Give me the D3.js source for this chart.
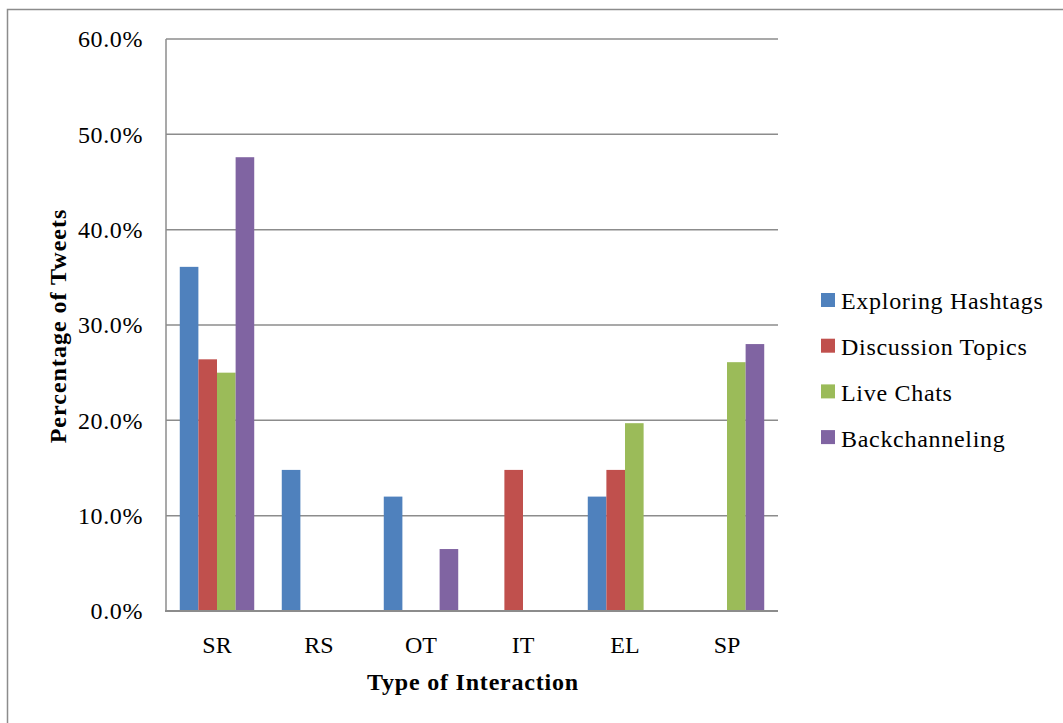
<!DOCTYPE html>
<html>
<head>
<meta charset="utf-8">
<script src="https://cdn.jsdelivr.net/npm/d3@7"></script>
<style>
  body { margin: 0; background: #fff; }
  svg text { font-family: "Liberation Serif", "DejaVu Serif", serif; fill: #000; }
</style>
</head>
<body>
<div id="wrapper"></div>
<script>
const categories = ["SR", "RS", "OT", "IT", "EL", "SP"]
const seriesNames = ["Exploring Hashtags", "Discussion Topics", "Live Chats", "Backchanneling"]
const colors = ["#4F81BD", "#C0504D", "#9BBB59", "#8064A2"]
// percentages per category, in series order (0 = no bar)
const exploringHashtags = [36.1, 14.8, 12.0, 0, 12.0, 0]
const discussionTopics = [26.4, 0, 0, 14.8, 14.8, 0]
const liveChats = [25.0, 0, 0, 0, 19.7, 26.1]
const backchanneling = [47.6, 0, 6.5, 0, 0, 28.0]
const yTicks = [0, 10, 20, 30, 40, 50, 60]

const series = [exploringHashtags, discussionTopics, liveChats, backchanneling]

let dimensions = {
    width: 1063,
    height: 723,
    margin: { top: 39, right: 285, bottom: 112, left: 166 },
}
dimensions.boundedWidth = dimensions.width - dimensions.margin.left - dimensions.margin.right
dimensions.boundedHeight = dimensions.height - dimensions.margin.top - dimensions.margin.bottom

const svg = d3.select("#wrapper")
    .append("svg")
    .attr("width", dimensions.width)
    .attr("height", dimensions.height)

// outer frame
svg.append("rect")
    .attr("x", 7.5).attr("y", 9.5)
    .attr("width", 1100).attr("height", 800)
    .attr("fill", "none")
    .attr("stroke", "#8c8c8c")
    .attr("stroke-width", 1.5)

const bounds = svg.append("g")
    .attr("transform", `translate(${dimensions.margin.left}, ${dimensions.margin.top})`)

const xScale = d3.scaleBand()
    .domain(categories)
    .range([0, dimensions.boundedWidth])
    .paddingInner(0.27)
    .paddingOuter(0.135)

const subScale = d3.scaleBand()
    .domain(d3.range(seriesNames.length))
    .range([0, xScale.bandwidth()])

const yScale = d3.scaleLinear()
    .domain([0, 60])
    .range([dimensions.boundedHeight, 0])

// gridlines
bounds.append("g")
    .selectAll("line")
    .data(yTicks)
    .join("line")
    .attr("x1", 0)
    .attr("x2", dimensions.boundedWidth)
    .attr("y1", d => yScale(d))
    .attr("y2", d => yScale(d))
    .attr("stroke", "#8c8c8c")
    .attr("stroke-width", 1.5)

// y axis line
bounds.append("line")
    .attr("x1", 0).attr("x2", 0)
    .attr("y1", 0).attr("y2", dimensions.boundedHeight)
    .attr("stroke", "#8c8c8c")
    .attr("stroke-width", 1.5)

// bars
const rows = categories.map((c, i) => ({ cat: c, values: series.map(s => s[i]) }))
bounds.append("g")
    .selectAll("g")
    .data(rows)
    .join("g")
    .attr("transform", d => `translate(${xScale(d.cat)}, 0)`)
    .selectAll("rect")
    .data(d => d.values.map((v, j) => ({ v, j })).filter(e => e.v > 0))
    .join("rect")
    .attr("x", d => subScale(d.j))
    .attr("width", subScale.bandwidth())
    .attr("y", d => yScale(d.v))
    .attr("height", d => yScale(0) - yScale(d.v))
    .attr("fill", d => colors[d.j])

// x axis line on top of bars
bounds.append("line")
    .attr("x1", -1).attr("x2", dimensions.boundedWidth)
    .attr("y1", dimensions.boundedHeight).attr("y2", dimensions.boundedHeight)
    .attr("stroke", "#8c8c8c")
    .attr("stroke-width", 2)

// y tick labels
bounds.append("g")
    .selectAll("text")
    .data(yTicks)
    .join("text")
    .attr("x", -23)
    .attr("y", d => yScale(d))
    .attr("dy", "0.35em")
    .attr("text-anchor", "end")
    .style("font-size", "24px")
    .style("letter-spacing", "0.6px")
    .text(d => d3.format(".1f")(d) + "%")

// x tick labels
bounds.append("g")
    .selectAll("text")
    .data(categories)
    .join("text")
    .attr("x", d => xScale(d) + xScale.bandwidth() / 2)
    .attr("y", dimensions.boundedHeight + 42)
    .attr("text-anchor", "middle")
    .style("font-size", "24px")
    .text(d => d)

// axis titles
svg.append("text")
    .attr("x", 473)
    .attr("y", 690)
    .attr("text-anchor", "middle")
    .style("font-size", "24px")
    .style("letter-spacing", "0.8px")
    .style("font-weight", "bold")
    .text("Type of Interaction")

svg.append("text")
    .attr("transform", "translate(66, 326) rotate(-90)")
    .attr("text-anchor", "middle")
    .style("font-size", "24px")
    .style("letter-spacing", "1px")
    .style("font-weight", "bold")
    .text("Percentage of Tweets")

// legend
const legend = svg.append("g")
    .attr("transform", "translate(821, 300)")
    .selectAll("g")
    .data(seriesNames)
    .join("g")
    .attr("transform", (d, i) => `translate(0, ${i * 45.7})`)

legend.append("rect")
    .attr("x", 0).attr("y", -7)
    .attr("width", 14).attr("height", 14)
    .attr("fill", (d, i) => colors[i])

legend.append("text")
    .attr("x", 20)
    .attr("y", 1)
    .attr("dy", "0.35em")
    .style("font-size", "24px")
    .style("letter-spacing", "0.7px")
    .text(d => d)
</script>
</body>
</html>
